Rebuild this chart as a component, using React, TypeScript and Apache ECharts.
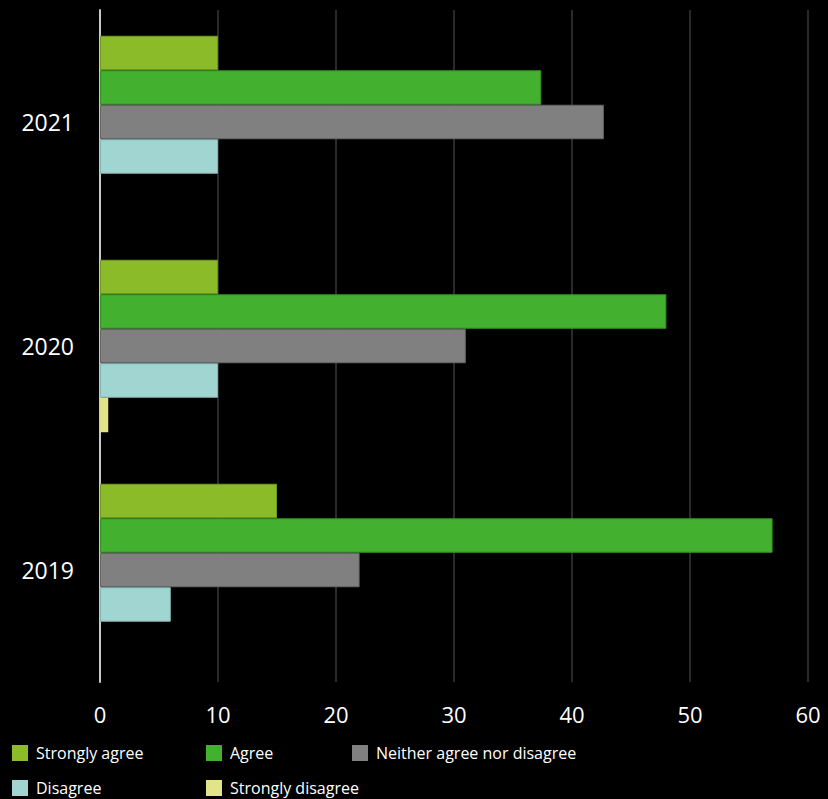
import React, { useEffect, useRef } from "react";
import * as echarts from "echarts";

const years = ["2019", "2020", "2021"];
const seriesNames = ["Strongly agree", "Agree", "Neither agree nor disagree", "Disagree", "Strongly disagree"];
const stronglyAgree = [15, 10, 10];
const agree = [57, 48, 37.4];
const neither = [22, 31, 42.7];
const disagree = [6, 10, 10];
const stronglyDisagree = [0, 0.7, 0];
const colors = ["#8BBB29", "#43B02F", "#808080", "#A0D5D2", "#E3E38A"];
const borders = ["#6f9a1f", "#358f24", "#666666", "#84b5b2", "#E3E38A"];

const legendPos = [
  { left: 12, top: 745 },
  { left: 206, top: 745 },
  { left: 352, top: 745 },
  { left: 12, top: 780 },
  { left: 206, top: 780 },
];

export default function App() {
  const ref = useRef<HTMLDivElement>(null);
  useEffect(() => {
    const chart = echarts.init(ref.current!, null, { renderer: "svg" });
    const values = [stronglyAgree, agree, neither, disagree, stronglyDisagree];
    const font = "'Open Sans', sans-serif";
    chart.setOption({
      animation: false,
      backgroundColor: "#000000",
      grid: { left: 100, right: 20, top: 10, bottom: 117, containLabel: false },
      xAxis: {
        type: "value",
        min: 0,
        max: 60,
        interval: 10,
        axisLine: { show: false },
        axisTick: { show: false },
        splitLine: { show: true, lineStyle: { color: "#2a2a2a", width: 2 } },
        axisLabel: { color: "#ffffff", fontSize: 22, fontFamily: font, margin: 21 },
      },
      yAxis: {
        type: "category",
        data: years,
        axisLine: { show: true, lineStyle: { color: "#c8c8c8", width: 2 } },
        axisTick: { show: false },
        axisLabel: { color: "#ffffff", fontSize: 23, fontFamily: font, margin: 26 },
      },
      legend: seriesNames.map((n, i) => ({
        data: [n],
        left: legendPos[i].left,
        top: legendPos[i].top,
        padding: 0,
        itemWidth: 16,
        itemHeight: 16,
        icon: "rect",
        itemStyle: { borderWidth: 0 },
        textStyle: { color: "#ffffff", fontSize: 16, fontFamily: font, padding: [0, 0, 0, 3] },
      })),
      series: seriesNames.map((n, i) => ({
        name: n,
        type: "bar",
        data: values[i].map((v) => (v === 0 ? null : v)),
        barGap: "0%",
        barCategoryGap: "23%",
        itemStyle: { color: colors[i], borderColor: borders[i], borderWidth: i === 4 ? 0 : 1 },
      })),
    });
    return () => chart.dispose();
  }, []);
  return <div ref={ref} style={{ width: 828, height: 799, position: "absolute", left: 0, top: 0 }} />;
}
